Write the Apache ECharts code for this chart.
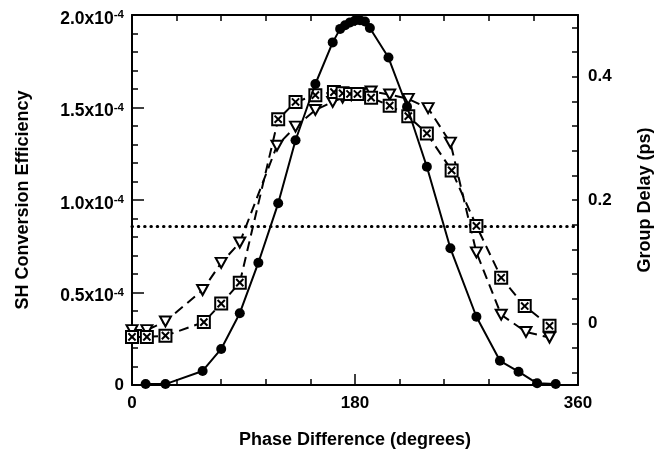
<!DOCTYPE html>
<html>
<head>
<meta charset="utf-8">
<script src="https://cdn.jsdelivr.net/npm/echarts@6/dist/echarts.min.js"></script>
<style>html,body{margin:0;padding:0;background:#fff}#c{width:663px;height:453px}</style>
</head>
<body>
<div id="c"></div>
<script>
// SH conversion efficiency (x10^-4) vs phase difference (degrees) — filled circles
var circlePhase = [11, 27, 57, 72, 87, 102, 118, 132, 148, 162, 168, 172, 176, 180, 184, 188, 192, 207, 222, 238, 257, 278, 297, 312, 327, 342];
var circleEff   = [0.005, 0.005, 0.076, 0.195, 0.388, 0.661, 0.982, 1.323, 1.627, 1.852, 1.925, 1.945, 1.96, 1.97, 1.972, 1.965, 1.93, 1.77, 1.504, 1.18, 0.739, 0.369, 0.131, 0.072, 0.009, 0.005];
// Group delay (ps) — crossed squares
var squarePhase = [0, 12, 27, 58, 72, 87, 118, 132, 148, 163, 170, 176, 182, 193, 208, 223, 238, 258, 278, 298, 317, 337];
var squareDelay = [-0.022, -0.022, -0.020, 0.002, 0.032, 0.066, 0.331, 0.359, 0.370, 0.375, 0.373, 0.372, 0.372, 0.366, 0.353, 0.336, 0.308, 0.248, 0.158, 0.074, 0.028, -0.004];
// Group delay (ps) — open down triangles
var triPhase = [0, 12, 27, 57, 72, 87, 117, 132, 148, 162, 170, 177, 184, 193, 208, 223, 239, 257, 278, 298, 318, 337];
var triDelay = [-0.011, -0.011, 0.003, 0.054, 0.098, 0.131, 0.288, 0.319, 0.346, 0.359, 0.366, 0.370, 0.373, 0.376, 0.371, 0.364, 0.349, 0.293, 0.115, 0.014, -0.014, -0.023];
// Dotted reference level (ps)
var refPhase = [0, 360];
var refDelay = [0.157, 0.157];
// Axis tick labels
var xTickLabels = ['0', '180', '360'];
var rightTickLabels = ['0', '0.2', '0.4'];

function pairs(xs, ys) { return xs.map(function (x, i) { return [x, ys[i]]; }); }

var FONT = "'Liberation Sans', Arial, Helvetica, sans-serif";
var black = '#000';

var chart = echarts.init(document.getElementById('c'), null, { renderer: 'canvas' });
var option = {
  backgroundColor: '#fff',
  animation: false,
  grid: [
    { left: 132, right: 85, top: 15, bottom: 68, outerBoundsMode: 'none', containLabel: false },
    { left: 132, right: 85, top: 27.33, height: 345.33, outerBoundsMode: 'none', containLabel: false }
  ],
  xAxis: [
    {
      type: 'value', gridIndex: 0, position: 'bottom', min: 0, max: 360, interval: 180,
      axisLine: { show: true, onZero: false, lineStyle: { color: black, width: 2 } },
      axisTick: { show: true, inside: true, length: 11, lineStyle: { color: black, width: 1.5 } },
      minorTick: { show: true, splitNumber: 5, length: 6, lineStyle: { color: black, width: 1.5 } },
      splitLine: { show: false },
      axisLabel: {
        show: true, margin: 10, color: black, fontFamily: FONT, fontWeight: 'bold', fontSize: 17,
        showMinLabel: true, showMaxLabel: true,
        formatter: function (v) { var i = Math.round(v / 180); return xTickLabels[i] !== undefined ? xTickLabels[i] : ''; }
      },
      name: 'Phase Difference (degrees)', nameLocation: 'middle', nameGap: 46,
      nameTextStyle: { color: black, fontFamily: FONT, fontWeight: 'bold', fontSize: 18 }
    },
    {
      type: 'value', gridIndex: 0, position: 'top', min: 0, max: 360, interval: 180,
      axisLine: { show: true, onZero: false, lineStyle: { color: black, width: 2 } },
      axisTick: { show: true, inside: true, length: 11, lineStyle: { color: black, width: 1.5 } },
      minorTick: { show: true, splitNumber: 5, length: 6, lineStyle: { color: black, width: 1.5 } },
      splitLine: { show: false }, axisLabel: { show: false }
    },
    {
      type: 'value', gridIndex: 1, min: 0, max: 360, show: false,
      axisLine: { show: false, onZero: false }, axisTick: { show: false }, axisLabel: { show: false }, splitLine: { show: false }
    }
  ],
  yAxis: [
    {
      type: 'value', gridIndex: 0, position: 'left', min: 0, max: 2.0, interval: 0.5,
      axisLine: { show: true, onZero: false, lineStyle: { color: black, width: 2 } },
      axisTick: { show: true, inside: true, length: 12, lineStyle: { color: black, width: 1.5 } },
      minorTick: { show: true, splitNumber: 5, length: 6, lineStyle: { color: black, width: 1.5 } },
      splitLine: { show: false },
      axisLabel: {
        show: true, margin: 8, color: black, showMinLabel: true, showMaxLabel: true,
        formatter: function (v) {
          if (Math.abs(v) < 1e-9) return '{z|0}';
          return '{m|' + v.toFixed(1) + 'x10}{s|-4}';
        },
        rich: {
          z: { fontFamily: FONT, fontWeight: 'bold', fontSize: 17, color: black, lineHeight: 20 },
          m: { fontFamily: FONT, fontWeight: 'bold', fontSize: 17.5, color: black, lineHeight: 20, padding: [8, 0, 0, 0] },
          s: { fontFamily: FONT, fontWeight: 'bold', fontSize: 11.5, color: black, lineHeight: 10, verticalAlign: 'top', padding: [4, 0, 0, 0] }
        }
      },
      name: 'SH Conversion Efficiency', nameLocation: 'middle', nameGap: 100, nameRotate: 90,
      nameTextStyle: { color: black, fontFamily: FONT, fontWeight: 'bold', fontSize: 18 }
    },
    {
      type: 'value', gridIndex: 0, position: 'right', min: -0.1, max: 0.5,
      axisLine: { show: true, onZero: false, lineStyle: { color: black, width: 2 } },
      axisTick: { show: false }, axisLabel: { show: false }, splitLine: { show: false },
      name: 'Group Delay (ps)', nameLocation: 'middle', nameGap: 58, nameRotate: 90,
      nameTextStyle: { color: black, fontFamily: FONT, fontWeight: 'bold', fontSize: 18 }
    },
    {
      type: 'value', gridIndex: 1, position: 'right', min: -0.08, max: 0.48, interval: 0.04,
      axisLine: { show: false, onZero: false },
      axisTick: { show: true, inside: true, length: 6, lineStyle: { color: black, width: 1.5 } },
      splitLine: { show: false },
      axisLabel: {
        show: true, margin: 10, color: black, fontFamily: FONT, fontWeight: 'bold', fontSize: 17,
        showMinLabel: true, showMaxLabel: true,
        formatter: function (v) {
          var k = Math.round(v / 0.2);
          if (Math.abs(v - k * 0.2) < 1e-6 && k >= 0 && k < rightTickLabels.length) return rightTickLabels[k];
          return '';
        }
      }
    }
  ],
  series: [
    {
      name: 'ref', type: 'line', xAxisIndex: 0, yAxisIndex: 1, data: pairs(refPhase, refDelay),
      symbol: 'none', lineStyle: { color: black, width: 3, type: [0.5, 5.8], cap: 'round' }, z: 1
    },
    {
      name: 'triangles', type: 'line', xAxisIndex: 0, yAxisIndex: 1, data: pairs(triPhase, triDelay),
      symbol: 'path://M0,0L10,0L5,9Z', symbolSize: [11, 10],
      itemStyle: { color: '#fff', borderColor: black, borderWidth: 2 },
      lineStyle: { color: black, width: 2, type: [10, 6] }, z: 2
    },
    {
      name: 'squares', type: 'line', xAxisIndex: 0, yAxisIndex: 1, data: pairs(squarePhase, squareDelay),
      symbol: 'path://M0,0H10V10H0Z M2,2L8,8 M8,2L2,8', symbolSize: 12,
      itemStyle: { color: '#fff', borderColor: black, borderWidth: 2 },
      lineStyle: { color: black, width: 2, type: [10, 6] }, z: 3
    },
    {
      name: 'circles', type: 'line', xAxisIndex: 0, yAxisIndex: 0, data: pairs(circlePhase, circleEff),
      symbol: 'circle', symbolSize: 10,
      itemStyle: { color: black, borderColor: black, borderWidth: 0 },
      lineStyle: { color: black, width: 2 }, z: 4
    }
  ]
};
chart.setOption(option);
</script>
</body>
</html>
